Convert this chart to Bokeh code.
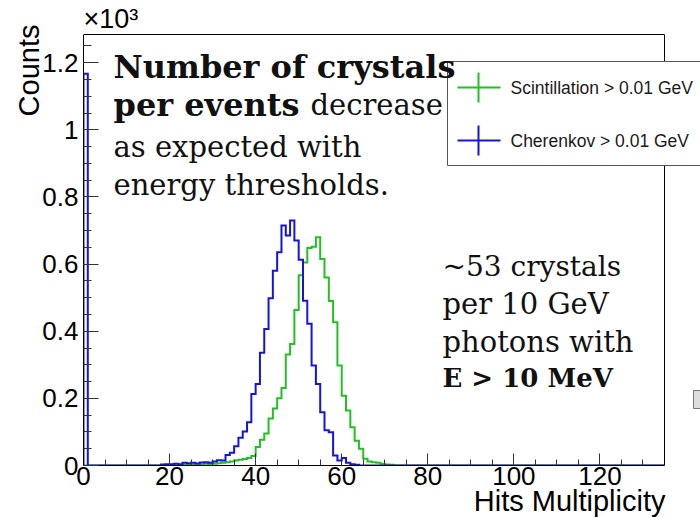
import numpy as np
from bokeh.plotting import figure
from bokeh.models import Range1d, FixedTicker, Label, Title
from bokeh.embed import file_html
from bokeh.resources import INLINE

# ---------------- data ----------------
x_max = 135                      # histogram range 0..135, 1 bin per hit
first_bin = 18                   # first listed bin of the arrays below
cherenkov_bin0 = 1167            # spike in bin [0,1)
cherenkov_counts = [3, 4, 4, 5, 4, 8, 7, 8, 6, 9, 10, 8, 12, 16, 15, 31, 38, 57,
                    83, 101, 129, 213, 243, 336, 407, 498, 580, 635, 715, 685, 730,
                    670, 613, 491, 422, 298, 243, 159, 105, 99, 30, 15, 22, 8, 4, 2]
scint_counts = [1, 0, 1, 1, 2, 2, 3, 2, 4, 3, 5, 4, 5, 7, 8, 10, 12, 15, 17, 19,
                22, 28, 55, 77, 95, 140, 170, 200, 231, 331, 362, 463, 567, 605,
                648, 652, 680, 615, 560, 490, 427, 298, 208, 164, 114, 74, 50, 20,
                12, 10, 8, 5, 3, 2]
y_ticks = [0, 200, 400, 600, 800, 1000, 1200]
y_tick_labels = ["0", "0.2", "0.4", "0.6", "0.8", "1", "1.2"]
x_ticks = [0, 20, 40, 60, 80, 100, 120]
legend_labels = ["Scintillation > 0.01 GeV", "Cherenkov > 0.01 GeV"]
green = "#22c022"
blue = "#1414dc"

# ---------------- layout constants ----------------
W, H = 700, 518
left, top, bottom = 83, 33, 53
frame_w = W - left
frame_h = H - top - bottom
px_per_x = (664 - left) / x_max
x_end = frame_w / px_per_x
y_top_hist = 1284
y_end = y_top_hist * frame_h / (465 - 34)
px_per_y = frame_h / y_end
BASE_FIX = 11   # alphabetic-baseline correction (px)


def X(px):
    return (px - left) / px_per_x


def Y(py):
    return (465 - py) / px_per_y


def full(values, start, zero_bin=0):
    arr = np.zeros(x_max)
    arr[start:start + len(values)] = values
    arr[0] = zero_bin
    return arr


def outline(counts):
    edges = np.arange(x_max + 1)
    xs = np.repeat(edges, 2)
    ys = np.concatenate([[0], np.repeat(counts, 2), [0]])
    return xs, ys


p = figure(width=W, height=H, output_backend="svg", toolbar_location=None,
           x_range=Range1d(0, x_end), y_range=Range1d(0, y_end),
           min_border_left=left, min_border_right=0, min_border_top=top,
           min_border_bottom=bottom)
p.outline_line_color = None
p.xgrid.visible = False
p.ygrid.visible = False
p.background_fill_color = "white"
p.border_fill_color = "white"

# "x10^3" multiplier as the plot title (top-left, above the frame)
p.title.text = "\u00d710\u00b3"
p.title.align = "left"
p.title.standoff = 0
p.title.text_font = "Liberation Sans"
p.title.text_font_size = "27px"
p.title.text_font_style = "normal"
p.title.text_color = "black"

# axis titles as side titles (ROOT puts them at the axis ends)
p.add_layout(Title(text="Counts", align="right", offset=-9, standoff=-10,
                   text_font="Liberation Sans", text_font_size="29px",
                   text_font_style="normal", text_color="black"), "left")
p.add_layout(Title(text="Hits Multiplicity", align="right", offset=35, standoff=-5,
                   vertical_align="top",
                   text_font="Liberation Sans", text_font_size="29px",
                   text_font_style="normal", text_color="black"), "below")

# histograms
sx, sy = outline(full(scint_counts, first_bin))
cx, cy = outline(full(cherenkov_counts, first_bin, cherenkov_bin0))
p.line(sx, sy, line_color=green, line_width=2, line_join="miter")
p.line(cx, cy, line_color=blue, line_width=2, line_join="miter")

# frame (top / right)
p.line([0, x_max, x_max], [y_top_hist, y_top_hist, 0], line_color="black", line_width=1)

# axes
xa = p.xaxis[0]
xa.bounds = (0, x_max)
xa.ticker = FixedTicker(ticks=x_ticks, minor_ticks=list(range(0, x_max, 5)))
xa.major_tick_in = 12
xa.major_tick_out = 0
xa.minor_tick_in = 6
xa.minor_tick_out = 0
xa.major_label_standoff = 1
xa.major_label_text_font = "Liberation Sans"
xa.major_label_text_font_size = "26px"
xa.major_label_text_color = "black"
xa.axis_line_color = "black"
xa.major_tick_line_color = "#333333"
xa.minor_tick_line_color = "#333333"

ya = p.yaxis[0]
ya.bounds = (0, y_top_hist)
ya.ticker = FixedTicker(ticks=y_ticks, minor_ticks=list(range(0, 1251, 50)))
ya.major_label_overrides = {t: s for t, s in zip(y_ticks, y_tick_labels)}
ya.major_tick_in = 15
ya.major_tick_out = 0
ya.minor_tick_in = 8
ya.minor_tick_out = 0
ya.major_label_standoff = 5
ya.major_label_text_font = "Liberation Sans"
ya.major_label_text_font_size = "26px"
ya.major_label_text_color = "black"
ya.axis_line_color = "black"
ya.major_tick_line_color = "#333333"
ya.minor_tick_line_color = "#333333"

# legend box (custom, ROOT style)
p.quad(left=X(447), right=X(760), top=Y(61), bottom=Y(165),
       fill_color="white", line_color="#555555", line_width=1)
for row, (lab, col) in enumerate(zip(legend_labels, [green, blue])):
    yc = Y(87 + row * 53)
    p.segment(x0=X(457), x1=X(500), y0=yc, y1=yc, line_color=col, line_width=2)
    p.segment(x0=X(478), x1=X(478), y0=yc - 15 / px_per_y, y1=yc + 15 / px_per_y,
              line_color=col, line_width=2)
    p.add_layout(Label(x=X(510), y=yc, text=lab, text_font="Liberation Sans",
                       text_font_size="17.5px", text_color="#1a1a1a",
                       text_baseline="middle"))

# small clipped box at the right edge
p.quad(left=X(693), right=X(720), top=Y(390), bottom=Y(408),
       fill_color="#dddddd", line_color="#777777", line_width=1)

# annotation texts
serif = "DejaVu Serif"
ink = "#111111"


def note(xpx, ypx, text, bold=False, size="29px"):
    p.add_layout(Label(x=X(xpx), y=Y(ypx - BASE_FIX), text=text, text_font=serif,
                       text_font_style="bold" if bold else "normal",
                       text_font_size=size, text_color=ink,
                       text_baseline="alphabetic", text_align="left"))


note(113, 77, "Number of crystals", bold=True, size="32px")
note(113, 115, "per events", bold=True, size="32px")
note(310, 115, "decrease")
note(113, 157, "as expected with")
note(113, 195, "energy thresholds.")
note(442, 277, "~53 crystals", size="28px")
note(442, 314, "per 10 GeV")
note(442, 352, "photons with")
note(442, 388, "E > 10 MeV", bold=True, size="26px")

open("out.html", "w").write(file_html(p, INLINE))
